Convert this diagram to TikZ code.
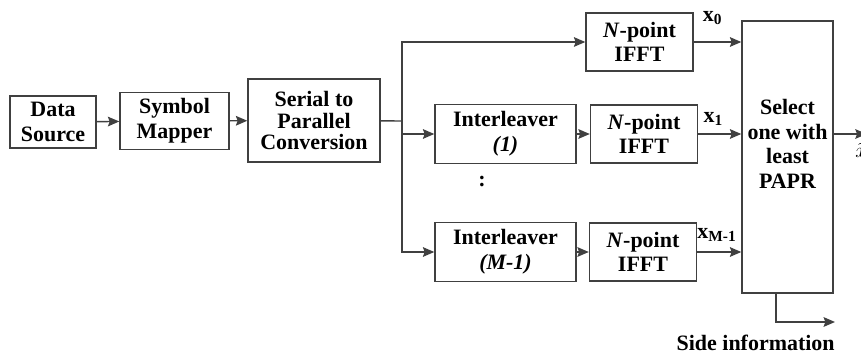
\documentclass[tikz,border=0pt]{standalone}
\usepackage{fontspec}
\setmainfont{Liberation Serif}
\usetikzlibrary{arrows.meta,positioning}

\begin{document}
\begin{tikzpicture}
  [
    x = 0.02cm, y = -0.02cm,
    font = \fontsize{12.5}{14}\selectfont\bfseries,
    block/.style = {draw=black!75, line width=0.8pt, align=center, inner sep=1pt},
    ifft block/.style = {block, minimum width=2.14cm, minimum height=1.16cm},
    interleaver block/.style = {block, minimum width=2.82cm, minimum height=1.18cm},
    signal line/.style = {draw=black!75, line width=0.8pt},
    branch label/.style = {above, inner sep=1pt},
    > = {Stealth[length=6.5pt,width=5.5pt,inset=1pt]},
  ]

  \useasboundingbox (0,0) rectangle (861,354);

  % transmitter chain
  \node[block, minimum width=1.72cm, minimum height=1.04cm] (src) at (53,122)    {Data\\Source};
  \node[block, minimum width=2.18cm, minimum height=1.14cm] (map) at (174.5,121) {Symbol\\Mapper};
  \node[block, minimum width=2.64cm, minimum height=1.66cm, font=\fontsize{12.5}{12.3}\selectfont\bfseries]
       (s2p) at (314,120.5) {Serial to\\Parallel\\Conversion};

  % branches
  \node[ifft block]        (ifft0) at (639.5,42)  {\textit{N}-point\\IFFT};
  \node[interleaver block] (il1)   at (505.5,134) {Interleaver\\\textit{(1)}};
  \node[ifft block]        (ifft1) at (644,134)   {\textit{N}-point\\IFFT};
  \node[interleaver block] (ilM)   at (505.5,252) {Interleaver\\\textit{(M-1)}};
  \node[ifft block]        (ifftM) at (643,252)   {\textit{N}-point\\IFFT};
  \node (dots) at (482,182) {:};

  % selection
  \node[block, minimum width=1.82cm, minimum height=5.44cm] (sel) at (787.5,157) {};
  \node[align=center] (sel text) at (787.5,144) {Select\\one with\\least\\PAPR};

  \coordinate (br) at (402,121);
  \coordinate (side end) at (835,322);

  \draw [->, signal line] (src) -- (map);
  \draw [->, signal line] (map) -- (s2p);
  \draw [signal line] (s2p) -- (br);
  \draw [->, signal line] (br) |- (ifft0);
  \draw [->, signal line] (br) |- (ilM);
  \draw [->, signal line] (br |- il1) -- (il1);
  \draw [->, signal line] (il1) -- (ifft1);
  \draw [->, signal line] (ilM) -- (ifftM);

  \draw [->, signal line] (ifft0) -- node[branch label, pos=0.4, yshift=0.3cm] {x\textsubscript{0}} (ifft0 -| sel.west);
  \draw [->, signal line] (ifft1) -- node[branch label, pos=0.35, yshift=0.12cm] {x\textsubscript{1}} (ifft1 -| sel.west);
  \draw [->, signal line] (ifftM) -- node[branch label, pos=0.45, yshift=0.16cm] {x\textsubscript{M-1}} (ifftM -| sel.west);

  \draw [->, signal line] (sel.east |- ifft1) -- ++(33,0)
    node[anchor=north west, inner sep=0pt, xshift=-0.24cm, yshift=-0.18cm] {$\tilde{x}$};
  \draw [->, signal line] ([xshift=-0.23cm]sel.south) |- (side end);
  \node[below left=0.26cm and 0cm of side end, inner sep=0pt] (side label) {Side information};

\end{tikzpicture}
\end{document}
